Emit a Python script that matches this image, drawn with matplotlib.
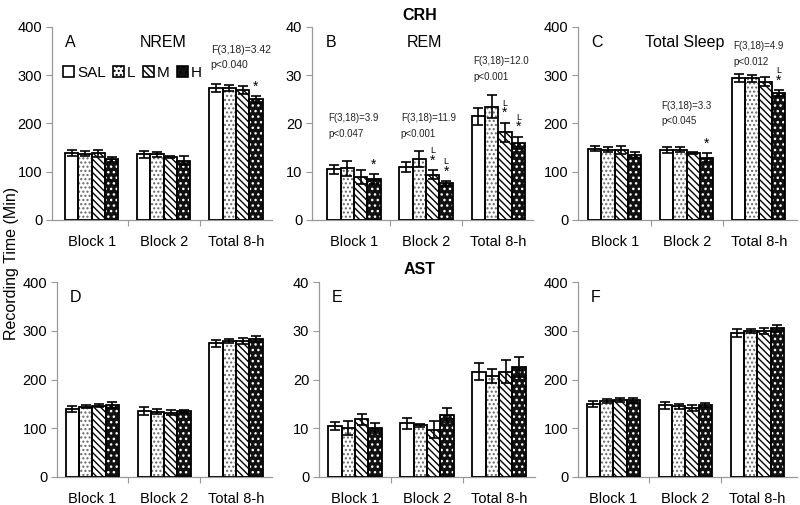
import numpy as np
import matplotlib.pyplot as plt
from matplotlib.patches import Patch

plt.rcParams['font.family'] = ['Liberation Sans', 'DejaVu Sans']

groups = ['SAL', 'L', 'M', 'H']
blocks = ['Block 1', 'Block 2', 'Total 8-h']

# means [block][group] and SEM
crh_nrem = [[139, 137, 138, 126], [136, 136, 131, 123], [274, 273, 270, 250]]
crh_nrem_err = [[6, 5, 8, 5], [7, 5, 2, 9], [8, 6, 8, 7]]
crh_rem = [[10.5, 10.7, 8.9, 8.5], [11.0, 12.7, 9.4, 7.6], [21.5, 23.5, 18.2, 16.0]]
crh_rem_err = [[0.9, 1.5, 1.5, 1.0], [1.0, 1.7, 1.0, 0.5], [1.8, 2.4, 2.0, 1.3]]
crh_tot = [[148, 146, 145, 134], [145, 146, 139, 129], [295, 294, 287, 263]]
crh_tot_err = [[6, 6, 9, 6], [7, 5, 2, 9], [8, 7, 10, 7]]

ast_nrem = [[139, 144, 146, 147], [135, 134, 132, 135], [274, 279, 279, 283]]
ast_nrem_err = [[6, 3, 3, 6], [8, 5, 5, 3], [8, 4, 6, 7]]
ast_rem = [[10.5, 10.1, 11.8, 10.0], [11.0, 10.6, 9.7, 12.7], [21.6, 20.7, 21.6, 22.6]]
ast_rem_err = [[0.8, 1.4, 1.2, 1.0], [1.1, 0.3, 1.7, 1.4], [1.8, 1.5, 2.4, 2.0]]
ast_tot = [[150, 155, 158, 157], [147, 145, 142, 148], [295, 299, 300, 305]]
ast_tot_err = [[6, 4, 4, 5], [7, 5, 6, 4], [8, 4, 6, 7]]

# stats text per panel: (block, text)
stats_a = [(2, 'F(3,18)=3.42\np<0.040')]
stats_b = [(0, 'F(3,18)=3.9\np<0.047'), (1, 'F(3,18)=11.9\np<0.001'), (2, 'F(3,18)=12.0\np<0.001')]
stats_c = [(1, 'F(3,18)=3.3\np<0.045'), (2, 'F(3,18)=4.9\np<0.012')]
# significance marks: (block, group, show "L")
marks_a = [(2, 3, False)]
marks_b = [(0, 3, False), (1, 2, True), (1, 3, True), (2, 2, True), (2, 3, True)]
marks_c = [(1, 3, False), (2, 3, True)]

face = ['white', 'white', 'white', '#111111']
hatch = [None, '....', '\\\\\\\\\\', '...']
hatch_col = ['black', '#666666', 'black', 'white']

fig = plt.figure(figsize=(8, 5.05), dpi=100)
W, H = 800, 505


def make_ax(left, top, right, bottom):
    return fig.add_axes([left / W, 1 - bottom / H, (right - left) / W, (bottom - top) / H])


def draw_bar(ax, x, h, w, g):
    ax.bar(x, h, w, color=face[g], hatch=hatch[g], edgecolor=hatch_col[g], linewidth=0, zorder=2)
    ax.bar(x, h, w, fill=False, edgecolor='black', linewidth=1.3, zorder=3)


def panel(ax, means, errs, ymax, xlim, letter, title=None, title_x=0.4, stats=(), marks=(),
          stat_y=None, stat_fs=7.0):
    m = np.array(means, dtype=float)
    e = np.array(errs, dtype=float)
    w = 0.185
    for g in range(4):
        xs = np.arange(3) + (g - 1.5) * w
        draw_bar(ax, xs, m[:, g], w, g)
        ax.errorbar(xs, m[:, g], yerr=e[:, g], fmt='none', ecolor='black',
                    elinewidth=1.2, capsize=3.5, capthick=1.2, zorder=4)
    ax.set_ylim(0, ymax)
    ax.set_xlim(*xlim)
    ax.set_yticks(np.linspace(0, ymax, 5))
    ax.set_xticks([0.5, 1.5])
    ax.set_xticklabels([])
    ax.set_xticks([0, 1, 2], minor=True)
    ax.set_xticklabels(blocks, minor=True)
    ax.tick_params(axis='x', which='minor', length=0, pad=11, labelsize=10.5)
    ax.tick_params(axis='x', which='major', length=4, color='#999999')
    ax.tick_params(axis='y', length=4, color='#999999', labelsize=10.5, pad=3)
    for s in ['top', 'right']:
        ax.spines[s].set_visible(False)
    for s in ['left', 'bottom']:
        ax.spines[s].set_color('#999999')
        ax.spines[s].set_linewidth(0.9)
    ax.text(0.06, 0.96, letter, transform=ax.transAxes, fontsize=11.5, va='top', ha='left')
    if title:
        ax.text(title_x, 0.96, title, transform=ax.transAxes, fontsize=11.5, va='top', ha='left')
    for b, txt in stats:
        ax.text(b - 0.35, stat_y[b] * ymax, txt, fontsize=stat_fs, ha='left', va='bottom',
                linespacing=1.7, color='#222222')
    for b, g, show_l in marks:
        x = b + (g - 1.5) * w
        y = m[b, g] + e[b, g] + 0.012 * ymax
        ax.text(x, y, '*', fontsize=10, ha='center', va='bottom')
        if show_l:
            ax.text(x, y + 0.065 * ymax, 'L', fontsize=6.5, ha='center', va='bottom')


ax_a = make_ax(52, 27, 272, 220)
panel(ax_a, crh_nrem, crh_nrem_err, 400, (-0.55, 2.5), 'A', 'NREM', 0.4, stats_a, marks_a,
      stat_y={2: 0.775}, stat_fs=7.5)
ax_b = make_ax(312, 27, 533, 220)
panel(ax_b, crh_rem, crh_rem_err, 40, (-0.58, 2.48), 'B', 'REM', 0.43, stats_b, marks_b,
      stat_y={0: 0.42, 1: 0.42, 2: 0.715})
ax_c = make_ax(578, 27, 797, 220)
panel(ax_c, crh_tot, crh_tot_err, 400, (-0.51, 2.53), 'C', 'Total Sleep', 0.305, stats_c, marks_c,
      stat_y={1: 0.485, 2: 0.795})
ax_d = make_ax(57, 282, 272, 477)
panel(ax_d, ast_nrem, ast_nrem_err, 400, (-0.49, 2.5), 'D')
ax_e = make_ax(319, 282, 535, 477)
panel(ax_e, ast_rem, ast_rem_err, 40, (-0.5, 2.5), 'E')
ax_f = make_ax(578, 282, 797, 477)
panel(ax_f, ast_tot, ast_tot_err, 400, (-0.49, 2.55), 'F')

handles = []
for g in range(4):
    handles.append(Patch(facecolor=face[g], hatch=hatch[g], edgecolor='black', linewidth=1.2))
ax_a.legend(handles, groups, ncol=4, loc='upper left', bbox_to_anchor=(0.02, 0.83),
            frameon=False, fontsize=11, handlelength=0.75, handleheight=0.75,
            handletextpad=0.2, columnspacing=0.45, borderaxespad=0)

fig.text(420 / W, 1 - 15 / H, 'CRH', fontsize=11.5, fontweight='bold', ha='center', va='center')
fig.text(420 / W, 1 - 269 / H, 'AST', fontsize=11.5, fontweight='bold', ha='center', va='center')
fig.text(12 / W, 1 - 263 / H, 'Recording Time (Min)', fontsize=11.5, rotation=90,
         ha='center', va='center')

fig.savefig('out.png', dpi=100)
